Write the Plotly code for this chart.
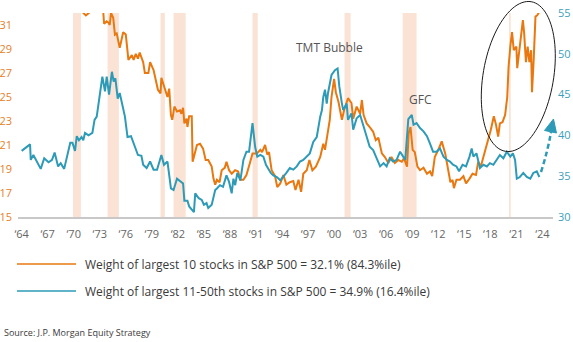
import math
import plotly.graph_objects as go

# ---- data -------------------------------------------------------------
# Weight of the 10 largest S&P 500 stocks (%), left axis; values above 32 run off the top
top10_year = [
    1964.0, 1965.5, 1967.0, 1968.5, 1970.0, 1970.7, 1971.1, 1971.4, 1971.75, 1972.3,
    1973.0, 1973.4, 1973.5, 1973.8, 1974.0, 1974.15, 1974.3, 1974.55, 1974.75, 1974.95,
    1975.3, 1975.7, 1976.0, 1976.3, 1976.7, 1976.9, 1977.15, 1977.4, 1977.6, 1978.0,
    1978.2, 1978.6, 1978.8, 1979.2, 1979.7, 1980.0, 1980.1, 1980.5, 1980.8, 1981.0,
    1981.2, 1981.35, 1981.6, 1981.9, 1982.25, 1982.4, 1982.6, 1982.75, 1983.0, 1983.1,
    1983.3, 1983.6, 1983.7, 1984.2, 1984.55, 1984.9, 1985.2, 1985.5, 1985.9, 1986.1,
    1986.3, 1986.5, 1986.8, 1987.05, 1987.4, 1987.6, 1987.9, 1988.2, 1988.6, 1988.95,
    1989.2, 1989.55, 1989.9, 1990.3, 1990.6, 1991.1, 1991.5, 1991.7, 1992.05, 1992.3,
    1992.5, 1992.8, 1993.2, 1993.45, 1993.8, 1994.15, 1994.5, 1994.9, 1995.3, 1995.55,
    1995.9, 1996.2, 1996.45, 1996.85, 1997.15, 1997.5, 1997.9, 1998.4, 1998.75, 1998.95,
    1999.2, 1999.5, 1999.7, 2000.0, 2000.2, 2000.5, 2000.9, 2001.15, 2001.6, 2002.0,
    2002.2, 2002.6, 2003.0, 2003.2, 2003.4, 2003.75, 2004.1, 2004.5, 2004.8, 2005.1,
    2005.5, 2005.85, 2006.25, 2006.6, 2007.0, 2007.4, 2007.8, 2008.05, 2008.4, 2008.6,
    2008.8, 2009.05, 2009.3, 2009.6, 2009.9, 2010.3, 2010.7, 2011.05, 2011.3, 2011.6,
    2012.0, 2012.4, 2012.8, 2013.2, 2013.4, 2013.65, 2013.8, 2014.1, 2014.5, 2014.9,
    2015.2, 2015.6, 2015.95, 2016.35, 2016.6, 2016.9, 2017.2, 2017.5, 2017.8, 2018.05,
    2018.4, 2018.65, 2018.9, 2019.1, 2019.4, 2019.7, 2019.95, 2020.1, 2020.3, 2020.5,
    2020.7, 2021.0, 2021.1, 2021.35, 2021.5, 2021.75, 2021.9, 2022.1, 2022.3, 2022.5,
    2022.7, 2022.8, 2023.0, 2023.2, 2023.4, 2023.65,
]
top10_pct = [
    34.0, 33.5, 33.8, 33.2, 33.0, 32.6, 32.0, 31.8, 32.0, 33.5,
    33.2, 32.1, 31.1, 31.3, 31.2, 31.0, 32.0, 31.6, 30.2, 30.3,
    29.1, 30.4, 30.2, 28.1, 28.5, 28.1, 28.6, 28.2, 28.7, 27.9,
    27.0, 27.0, 27.9, 27.25, 25.6, 25.3, 26.6, 25.7, 25.0, 25.7,
    23.5, 23.1, 24.2, 23.8, 23.9, 23.6, 24.1, 22.8, 23.2, 22.5,
    23.4, 23.4, 19.6, 21.0, 21.1, 20.7, 19.75, 19.75, 19.2, 18.2,
    17.7, 18.1, 17.9, 18.9, 19.1, 19.6, 18.9, 18.6, 18.9, 18.8,
    18.1, 18.1, 18.5, 19.5, 20.3, 20.3, 20.6, 20.4, 21.0, 20.2,
    20.4, 18.9, 18.4, 17.5, 17.8, 18.5, 17.7, 17.9, 18.0, 17.25,
    18.1, 17.1, 18.6, 18.9, 19.75, 18.9, 19.2, 20.0, 21.1, 20.6,
    21.7, 23.1, 25.0, 26.5, 25.4, 24.6, 23.1, 23.9, 24.9, 24.5,
    23.2, 24.2, 23.6, 24.75, 23.5, 22.8, 22.5, 22.1, 21.4, 21.6,
    20.3, 20.0, 19.5, 20.0, 19.5, 19.75, 19.6, 19.9, 19.2, 22.0,
    22.5, 20.6, 20.4, 19.2, 18.9, 19.1, 18.6, 18.8, 18.4, 20.0,
    20.6, 21.3, 20.3, 18.6, 17.9, 18.1, 17.4, 18.1, 18.1, 18.4,
    17.8, 18.2, 18.6, 18.5, 19.6, 19.2, 20.0, 20.6, 21.4, 22.25,
    23.4, 22.7, 21.7, 22.8, 22.9, 23.5, 25.0, 27.5, 29.2, 30.4,
    28.9, 29.2, 27.4, 28.9, 29.75, 31.4, 30.3, 27.9, 29.2, 27.9,
    28.9, 25.4, 28.2, 31.7, 31.8, 32.1,
]

# Weight of the 11th-50th largest S&P 500 stocks (%), right axis
next40_year = [
    1964.0, 1964.97, 1965.05, 1965.35, 1966.2, 1966.6, 1967.1, 1967.5, 1967.8, 1968.2,
    1968.5, 1968.9, 1969.6, 1969.85, 1970.15, 1970.35, 1970.6, 1970.9, 1971.1, 1971.3,
    1971.7, 1972.15, 1972.4, 1972.65, 1973.3, 1973.6, 1973.8, 1974.07, 1974.4, 1974.6,
    1974.8, 1975.07, 1975.3, 1975.9, 1976.2, 1976.6, 1977.4, 1977.8, 1978.0, 1978.4,
    1978.8, 1979.2, 1979.6, 1980.1, 1980.4, 1980.8, 1981.2, 1981.5, 1981.9, 1982.3,
    1982.6, 1982.75, 1983.1, 1983.3, 1983.6, 1983.85, 1984.0, 1984.4, 1984.75, 1985.0,
    1985.3, 1985.5, 1985.9, 1986.1, 1986.3, 1986.5, 1986.85, 1987.2, 1987.6, 1987.9,
    1988.2, 1988.4, 1988.6, 1988.85, 1989.2, 1989.55, 1989.9, 1990.2, 1990.6, 1990.9,
    1991.15, 1991.5, 1991.85, 1992.15, 1992.4, 1992.7, 1993.0, 1993.4, 1993.8, 1994.15,
    1994.5, 1994.9, 1995.3, 1995.7, 1996.07, 1996.45, 1996.85, 1997.2, 1997.6, 1998.0,
    1998.4, 1998.6, 1998.75, 1998.95, 1999.15, 1999.3, 1999.7, 2000.1, 2000.4, 2000.6,
    2000.9, 2001.05, 2001.45, 2001.6, 2002.0, 2002.2, 2002.6, 2003.0, 2003.4, 2003.75,
    2004.1, 2004.5, 2004.9, 2005.3, 2005.7, 2006.05, 2006.4, 2006.8, 2007.2, 2007.6,
    2008.2, 2008.55, 2008.95, 2009.15, 2009.5, 2009.9, 2010.3, 2010.7, 2011.05, 2011.4,
    2011.8, 2012.2, 2012.6, 2013.0, 2013.35, 2013.7, 2014.1, 2014.4, 2014.8, 2015.2,
    2015.6, 2015.85, 2016.05, 2016.4, 2016.8, 2017.2, 2017.6, 2017.95, 2018.35, 2018.7,
    2019.1, 2019.5, 2019.9, 2020.3, 2020.6, 2020.85, 2021.05, 2021.4, 2021.8, 2022.2,
    2022.6, 2022.95, 2023.35, 2023.65,
]
next40_pct = [
    38.1, 38.9, 37.0, 37.6, 35.9, 37.2, 36.7, 37.0, 37.9, 36.2,
    36.6, 35.9, 39.1, 39.1, 38.1, 39.9, 39.4, 39.8, 39.4, 40.3,
    40.0, 40.3, 41.9, 42.3, 47.2, 45.4, 47.2, 45.0, 47.8, 46.6,
    47.0, 44.5, 45.2, 42.3, 39.8, 39.9, 37.6, 37.5, 36.4, 36.0,
    36.8, 35.8, 35.8, 37.6, 36.4, 36.8, 33.5, 33.3, 34.7, 34.3,
    34.1, 32.0, 32.0, 31.3, 30.9, 30.6, 32.9, 32.3, 32.1, 31.5,
    31.7, 31.1, 31.5, 32.3, 33.3, 33.5, 33.9, 33.7, 35.1, 34.3,
    32.9, 34.7, 33.9, 35.4, 34.5, 37.0, 38.0, 38.0, 41.5, 38.6,
    37.4, 37.6, 37.4, 36.4, 36.0, 35.4, 35.1, 34.9, 34.5, 34.9,
    35.4, 36.0, 35.8, 36.2, 36.8, 37.0, 37.4, 37.8, 39.2, 39.8,
    42.3, 43.1, 44.7, 45.6, 43.9, 45.2, 47.4, 48.0, 48.2, 46.0,
    43.9, 43.1, 43.9, 41.9, 42.7, 40.7, 42.1, 42.5, 41.1, 39.9,
    38.6, 38.2, 37.2, 36.2, 36.6, 36.2, 37.2, 36.8, 37.0, 38.0,
    37.0, 42.0, 42.5, 41.3, 41.5, 40.9, 40.5, 39.9, 39.0, 38.0,
    38.0, 38.4, 37.4, 37.0, 36.8, 36.4, 36.2, 35.6, 36.4, 36.2,
    37.4, 38.4, 37.4, 37.8, 36.0, 36.4, 36.2, 36.6, 36.4, 37.0,
    37.6, 37.2, 38.0, 37.4, 37.8, 37.0, 34.7, 34.9, 35.4, 34.9,
    34.7, 35.4, 35.6, 34.9,
]

# US recessions (start, end) in decimal years
recessions = [
    (1969.92, 1970.83), (1973.9, 1975.2), (1980.0, 1980.5), (1981.5, 1982.9),
    (1990.6, 1991.2), (2001.2, 2001.9), (2007.9, 2009.5), (2020.15, 2020.35),
]

tick_years = list(range(1964, 2025, 3))
tick_labels = ["\u2018" + str(y)[2:] for y in tick_years]

legend_labels = [
    "Weight of largest 10 stocks in S&P 500 = 32.1% (84.3%ile)",
    "Weight of largest 11-50th stocks in S&P 500 = 34.9% (16.4%ile)",
]
source_text = "Source: J.P. Morgan Equity Strategy"

# ---- styling ------------------------------------------------------------
ORANGE = "#E8780F"
BLUE = "#2D9AB7"
ORANGE_TXT = "#E5802A"
BLUE_TXT = "#3C9FBB"
TEXT = "#3a3a3a"
FONT = "Open Sans"

W, H = 573, 342
M = dict(l=18, r=20, t=13, b=125)
PW = W - M["l"] - M["r"]
PH = H - M["t"] - M["b"]


def paper(px, py):
    """Pixel position in the page -> paper coordinates."""
    return (px - M["l"]) / PW, (H - M["b"] - py) / PH


fig = go.Figure()
fig.add_trace(go.Scatter(x=top10_year, y=top10_pct, mode="lines",
                         line=dict(color=ORANGE, width=2), yaxis="y",
                         showlegend=False, hoverinfo="skip"))
fig.add_trace(go.Scatter(x=next40_year, y=next40_pct, mode="lines",
                         line=dict(color=BLUE, width=2), yaxis="y2",
                         showlegend=False, hoverinfo="skip"))

shapes = []
for a, b in recessions:
    shapes.append(dict(type="rect", xref="x", yref="paper", x0=a, x1=b, y0=0, y1=1,
                       fillcolor="#FAE3D5", line=dict(width=0), layer="below"))

# tilted ellipse around the recent surge
cx, cy, ra, rb, tilt = 518.3, 76.5, 75.9, 35.2, math.radians(9.8)
ux, uy = math.sin(tilt), -math.cos(tilt)
vx, vy = math.cos(tilt), math.sin(tilt)
pts = []
for i in range(97):
    t = 2 * math.pi * i / 96
    px = cx + ra * math.cos(t) * ux + rb * math.sin(t) * vx
    py = cy + ra * math.cos(t) * uy + rb * math.sin(t) * vy
    pts.append(paper(px, py))
path = "M " + " L ".join(f"{x:.5f},{y:.5f}" for x, y in pts) + " Z"
shapes.append(dict(type="path", xref="paper", yref="paper", path=path,
                   line=dict(color="#1a1a1a", width=1)))

# dashed arrow pointing up from the end of the blue line
p0, pc, p1 = paper(541, 172), paper(548, 150), paper(551, 132)
shapes.append(dict(type="path", xref="paper", yref="paper",
                   path=f"M {p0[0]:.5f},{p0[1]:.5f} Q {pc[0]:.5f},{pc[1]:.5f} {p1[0]:.5f},{p1[1]:.5f}",
                   line=dict(color=BLUE, width=2.5, dash="5px,3px")))
tip, c1, c2 = paper(553.5, 119), paper(556.5, 133), paper(544.5, 130.5)
shapes.append(dict(type="path", xref="paper", yref="paper",
                   path=f"M {tip[0]:.5f},{tip[1]:.5f} L {c1[0]:.5f},{c1[1]:.5f} L {c2[0]:.5f},{c2[1]:.5f} Z",
                   fillcolor=BLUE, line=dict(color=BLUE, width=1)))

# legend rows
annotations = []
for label, color, py in zip(legend_labels, [ORANGE, BLUE], [264, 291]):
    a0, a1 = paper(17, py), paper(76, py)
    shapes.append(dict(type="line", xref="paper", yref="paper",
                       x0=a0[0], x1=a1[0], y0=a0[1], y1=a1[1],
                       line=dict(color=color, width=1.5)))
    tx, ty = paper(83, py)
    annotations.append(dict(xref="paper", yref="paper", x=tx, y=ty, text=label,
                            showarrow=False, xanchor="left", yanchor="middle",
                            font=dict(family=FONT, size=12, color=TEXT)))

sx, sy = paper(2, 332)
annotations.append(dict(xref="paper", yref="paper", x=sx, y=sy, text=source_text,
                        showarrow=False, xanchor="left", yanchor="middle",
                        font=dict(family=FONT, size=9, color=TEXT)))

annotations.append(dict(x=1999.5, y=29.1, xref="x", yref="y", text="TMT Bubble",
                        showarrow=False, font=dict(family=FONT, size=12, color="#555555")))
annotations.append(dict(x=2009.9, y=24.8, xref="x", yref="y", text="GFC",
                        showarrow=False, font=dict(family=FONT, size=12, color="#555555")))

fig.update_layout(
    width=W, height=H, margin=M,
    paper_bgcolor="white", plot_bgcolor="white",
    font=dict(family=FONT, size=11),
    showlegend=False,
    shapes=shapes, annotations=annotations,
    xaxis=dict(range=[1963.58, 2025.22], tickvals=tick_years, ticktext=tick_labels,
               showgrid=False, zeroline=False, showline=True, linecolor="#c8c8c8",
               linewidth=1.5, ticks="", ticklabelstandoff=6, automargin=False,
               tickfont=dict(family=FONT, size=11, color="#666666")),
    yaxis=dict(range=[15, 32], tickvals=list(range(15, 32, 2)), showgrid=False,
               zeroline=False, showline=False, ticks="", ticklabelstandoff=5,
               automargin=False,
               tickfont=dict(family=FONT, size=11, color=ORANGE_TXT)),
    yaxis2=dict(range=[30, 55], tickvals=list(range(30, 56, 5)), overlaying="y",
                side="right", showgrid=False, zeroline=False, showline=False,
                ticks="", ticklabelstandoff=4, automargin=False,
                tickfont=dict(family=FONT, size=11, color=BLUE_TXT)),
)

fig.write_html("out.html")
